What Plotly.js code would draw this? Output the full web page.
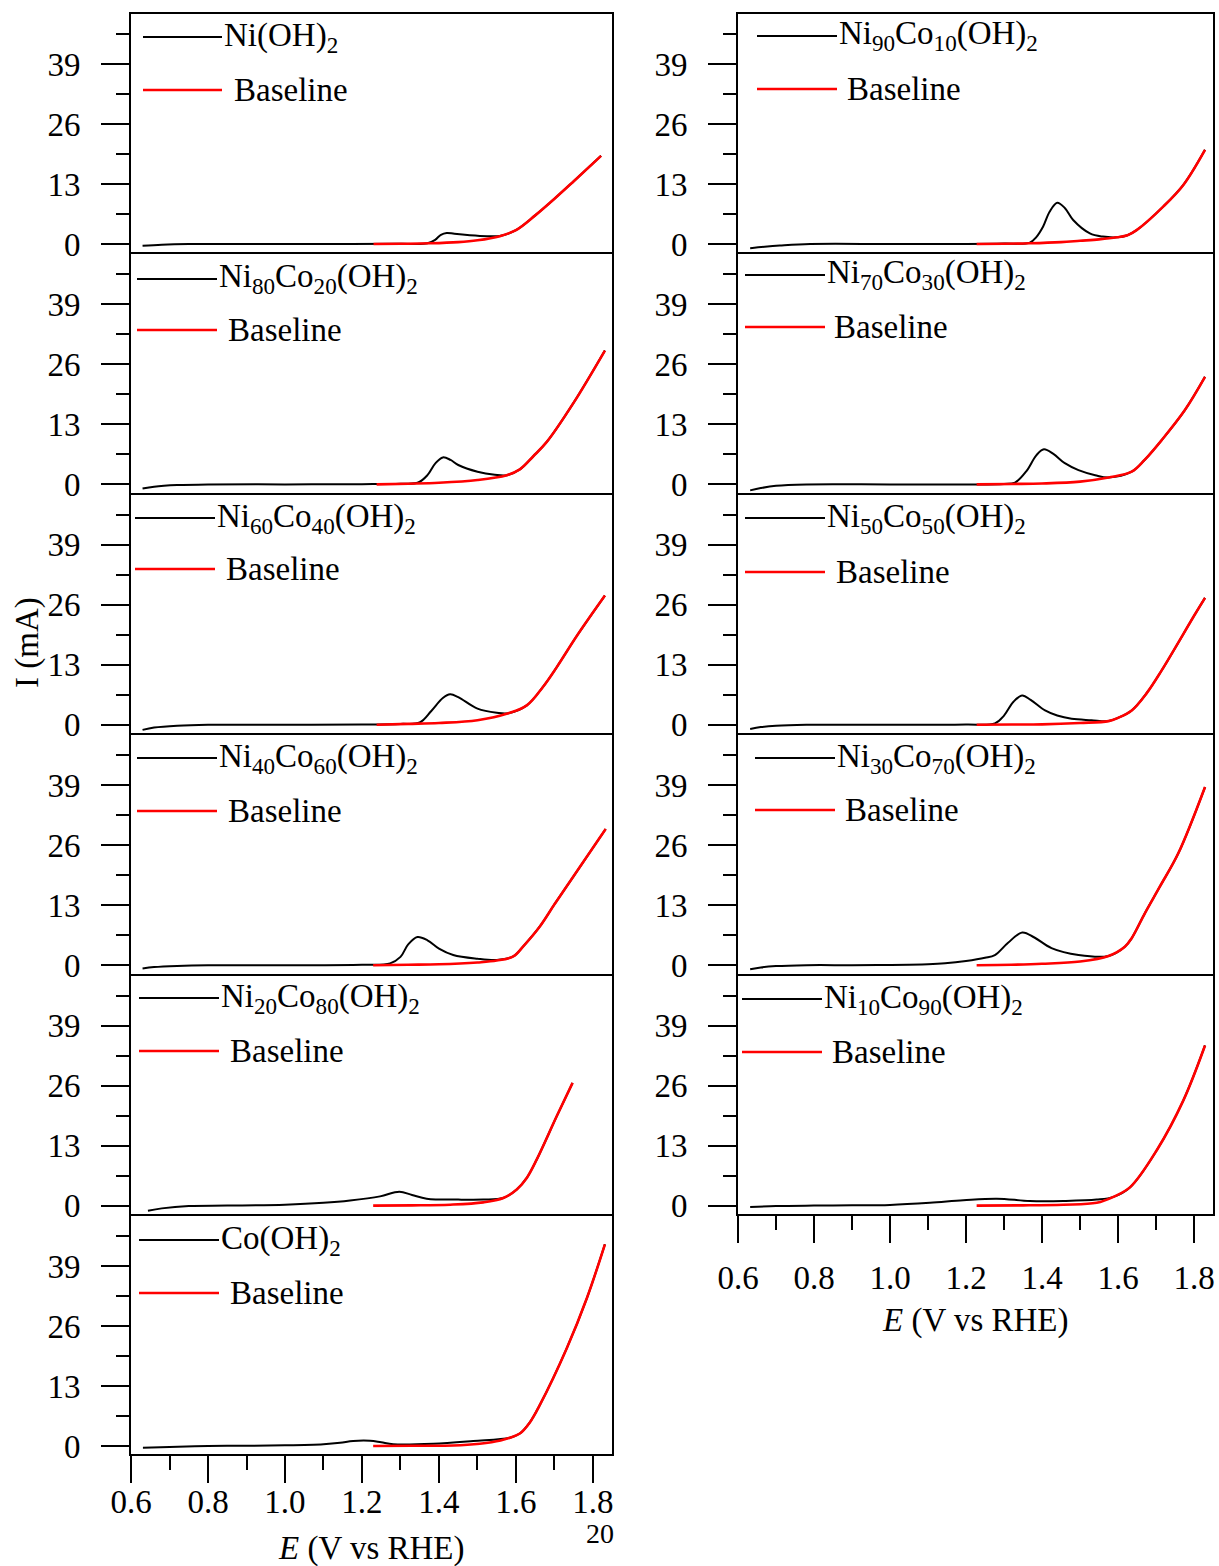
<!DOCTYPE html>
<html>
<head>
<meta charset="utf-8">
<script src="https://cdn.plot.ly/plotly-3.0.1.min.js"></script>
<style>html,body{margin:0;padding:0;background:#fff;}#chart{width:1219px;height:1566px;}</style>
</head>
<body>
<div id="chart"></div>
<script>
// ---------------- DATA ----------------
const panelLabels = [
  'Ni(OH)<sub>2</sub>',
  'Ni<sub>80</sub>Co<sub>20</sub>(OH)<sub>2</sub>',
  'Ni<sub>60</sub>Co<sub>40</sub>(OH)<sub>2</sub>',
  'Ni<sub>40</sub>Co<sub>60</sub>(OH)<sub>2</sub>',
  'Ni<sub>20</sub>Co<sub>80</sub>(OH)<sub>2</sub>',
  'Co(OH)<sub>2</sub>',
  'Ni<sub>90</sub>Co<sub>10</sub>(OH)<sub>2</sub>',
  'Ni<sub>70</sub>Co<sub>30</sub>(OH)<sub>2</sub>',
  'Ni<sub>50</sub>Co<sub>50</sub>(OH)<sub>2</sub>',
  'Ni<sub>30</sub>Co<sub>70</sub>(OH)<sub>2</sub>',
  'Ni<sub>10</sub>Co<sub>90</sub>(OH)<sub>2</sub>'
];
const baselineLabel = 'Baseline';
const xTickVals = [0.6, 0.8, 1.0, 1.2, 1.4, 1.6, 1.8];
const xTickText = ['0.6', '0.8', '1.0', '1.2', '1.4', '1.6', '1.8'];
const yTickVals = [0, 13, 26, 39];
const yTickText = ['0', '13', '26', '39'];

// Ni(OH)2
const E_Ni100 = [0.63, 0.68, 0.75, 0.9, 1.1, 1.3, 1.37, 1.39, 1.405, 1.42, 1.44, 1.48, 1.525, 1.558, 1.6, 1.65, 1.7, 1.75, 1.821];
const I_Ni100 = [-0.4, -0.15, 0, 0, 0, 0.05, 0.15, 0.9, 2.0, 2.4, 2.2, 1.9, 1.7, 1.75, 3.0, 6.2, 9.8, 13.6, 19.1];
const E_Ni100_base = [1.23, 1.3, 1.377, 1.45, 1.5, 1.558, 1.6, 1.65, 1.7, 1.75, 1.821];
const I_Ni100_base = [0, 0.05, 0.15, 0.4, 0.8, 1.7, 3.0, 6.2, 9.8, 13.6, 19.1];

// Ni80Co20(OH)2
const E_Ni80 = [0.63, 0.66, 0.72, 0.8, 1.0, 1.2, 1.3, 1.346, 1.37, 1.39, 1.41, 1.43, 1.45, 1.5, 1.545, 1.576, 1.61, 1.645, 1.68, 1.749, 1.831];
const I_Ni80 = [-0.9, -0.5, -0.15, 0, 0, 0.05, 0.15, 0.4, 2.0, 4.5, 5.85, 5.3, 4.2, 2.75, 2.1, 2.0, 3.25, 6.1, 9.2, 17.6, 29.0];
const E_Ni80_base = [1.238, 1.32, 1.4, 1.5, 1.576, 1.61, 1.645, 1.68, 1.749, 1.831];
const I_Ni80_base = [0, 0.15, 0.35, 0.95, 2.0, 3.25, 6.1, 9.2, 17.6, 29.0];

// Ni60Co40(OH)2
const E_Ni60 = [0.63, 0.66, 0.72, 0.8, 1.0, 1.2, 1.3, 1.35, 1.38, 1.41, 1.429, 1.45, 1.5, 1.55, 1.58, 1.628, 1.67, 1.706, 1.76, 1.831];
const I_Ni60 = [-1.1, -0.6, -0.2, 0, 0, 0.05, 0.2, 0.5, 3.0, 5.8, 6.6, 6.0, 3.5, 2.6, 2.5, 4.2, 8.2, 12.5, 19.5, 28.0];
const E_Ni60_base = [1.238, 1.32, 1.4, 1.5, 1.58, 1.628, 1.67, 1.706, 1.76, 1.831];
const I_Ni60_base = [0, 0.2, 0.4, 1.0, 2.5, 4.2, 8.2, 12.5, 19.5, 28.0];

// Ni40Co60(OH)2
const E_Ni40 = [0.63, 0.66, 0.72, 0.8, 1.0, 1.2, 1.273, 1.3, 1.32, 1.344, 1.37, 1.4, 1.437, 1.5, 1.55, 1.593, 1.62, 1.662, 1.7, 1.749, 1.833];
const I_Ni40 = [-0.7, -0.4, -0.15, 0, 0, 0.1, 0.4, 1.8, 4.5, 6.1, 5.4, 3.6, 2.2, 1.4, 1.15, 1.9, 4.2, 8.4, 13.2, 19.2, 29.5];
const E_Ni40_base = [1.229, 1.32, 1.4, 1.5, 1.55, 1.593, 1.62, 1.662, 1.7, 1.749, 1.833];
const I_Ni40_base = [0, 0.1, 0.2, 0.6, 1.0, 1.9, 4.2, 8.4, 13.2, 19.2, 29.5];

// Ni20Co80(OH)2
const E_Ni20 = [0.644, 0.68, 0.75, 0.85, 1.0, 1.1, 1.169, 1.247, 1.297, 1.33, 1.368, 1.45, 1.515, 1.567, 1.602, 1.628, 1.654, 1.706, 1.747];
const I_Ni20 = [-1.1, -0.6, -0.1, 0, 0.2, 0.6, 1.1, 2.0, 3.0, 2.3, 1.5, 1.3, 1.3, 1.65, 3.5, 6.0, 10.0, 19.4, 26.6];
const E_Ni20_base = [1.229, 1.33, 1.429, 1.515, 1.567, 1.602, 1.628, 1.654, 1.706, 1.747];
const I_Ni20_base = [0, 0.05, 0.2, 0.7, 1.65, 3.5, 6.0, 10.0, 19.4, 26.6];

// Co(OH)2
const E_Ni0 = [0.631, 0.7, 0.8, 0.9, 1.0, 1.1, 1.143, 1.177, 1.221, 1.25, 1.281, 1.385, 1.489, 1.584, 1.61, 1.635, 1.662, 1.732, 1.784, 1.831];
const I_Ni0 = [-0.4, -0.2, 0, 0.05, 0.15, 0.4, 0.7, 1.1, 1.15, 0.8, 0.4, 0.5, 1.1, 1.8, 2.7, 5.0, 8.9, 21.2, 32.0, 43.7];
const E_Ni0_base = [1.229, 1.33, 1.437, 1.506, 1.56, 1.584, 1.61, 1.635, 1.662, 1.732, 1.784, 1.831];
const I_Ni0_base = [0, 0.05, 0.1, 0.5, 1.2, 1.8, 2.7, 5.0, 8.9, 21.2, 32.0, 43.7];

// Ni90Co10(OH)2
const E_Ni90 = [0.632, 0.67, 0.71, 0.79, 1.0, 1.2, 1.3, 1.368, 1.385, 1.403, 1.42, 1.44, 1.46, 1.482, 1.526, 1.56, 1.597, 1.625, 1.649, 1.719, 1.772, 1.829];
const I_Ni90 = [-0.9, -0.6, -0.35, 0, 0, 0, 0.1, 0.3, 1.5, 3.8, 7.0, 8.95, 7.8, 5.2, 2.3, 1.6, 1.45, 1.9, 3.0, 8.1, 12.8, 20.4];
const E_Ni90_base = [1.228, 1.3, 1.368, 1.45, 1.5, 1.55, 1.597, 1.625, 1.649, 1.719, 1.772, 1.829];
const I_Ni90_base = [0, 0.05, 0.15, 0.4, 0.7, 1.0, 1.45, 1.9, 3.0, 8.1, 12.8, 20.4];

// Ni70Co30(OH)2
const E_Ni70 = [0.632, 0.66, 0.7, 0.78, 1.0, 1.2, 1.3, 1.329, 1.36, 1.385, 1.405, 1.43, 1.46, 1.496, 1.54, 1.575, 1.636, 1.67, 1.715, 1.776, 1.829];
const I_Ni70 = [-1.3, -0.8, -0.3, 0, 0, 0, 0.1, 0.4, 3.0, 6.3, 7.6, 6.6, 4.6, 3.1, 2.0, 1.5, 2.75, 5.3, 9.6, 16.1, 23.3];
const E_Ni70_base = [1.228, 1.32, 1.4, 1.5, 1.575, 1.636, 1.67, 1.715, 1.776, 1.829];
const I_Ni70_base = [0, 0.1, 0.2, 0.6, 1.5, 2.75, 5.3, 9.6, 16.1, 23.3];

// Ni50Co50(OH)2
const E_Ni50 = [0.632, 0.66, 0.7, 0.78, 1.0, 1.2, 1.276, 1.3, 1.325, 1.348, 1.37, 1.408, 1.44, 1.478, 1.53, 1.575, 1.6, 1.636, 1.675, 1.715, 1.803, 1.829];
const I_Ni50 = [-0.9, -0.5, -0.2, 0, 0, 0.05, 0.3, 2.0, 5.0, 6.35, 5.4, 3.1, 2.0, 1.3, 1.0, 0.8, 1.5, 3.1, 6.8, 11.8, 24.0, 27.5];
const E_Ni50_base = [1.228, 1.32, 1.4, 1.5, 1.575, 1.6, 1.636, 1.675, 1.715, 1.803, 1.829];
const I_Ni50_base = [0, 0.05, 0.1, 0.4, 0.8, 1.5, 3.1, 6.8, 11.8, 24.0, 27.5];

// Ni30Co70(OH)2
const E_Ni30 = [0.632, 0.66, 0.7, 0.78, 0.9, 1.0, 1.1, 1.145, 1.2, 1.25, 1.276, 1.31, 1.348, 1.38, 1.425, 1.496, 1.575, 1.618, 1.636, 1.671, 1.71, 1.759, 1.829];
const I_Ni30 = [-0.9, -0.5, -0.2, 0, 0, 0.05, 0.2, 0.4, 0.9, 1.6, 2.2, 4.8, 7.1, 6.0, 3.7, 2.2, 2.0, 4.0, 5.85, 11.3, 17.0, 24.3, 38.6];
const E_Ni30_base = [1.228, 1.32, 1.4, 1.5, 1.575, 1.618, 1.636, 1.671, 1.71, 1.759, 1.829];
const I_Ni30_base = [0, 0.1, 0.3, 0.8, 2.0, 4.0, 5.85, 11.3, 17.0, 24.3, 38.6];

// Ni10Co90(OH)2
const E_Ni10 = [0.632, 0.7, 0.8, 0.9, 1.0, 1.105, 1.193, 1.281, 1.368, 1.456, 1.544, 1.588, 1.632, 1.702, 1.772, 1.829];
const I_Ni10 = [-0.3, -0.1, 0, 0.05, 0.15, 0.6, 1.15, 1.5, 1.0, 1.0, 1.3, 1.9, 4.0, 12.0, 22.8, 34.7];
const E_Ni10_base = [1.228, 1.35, 1.456, 1.544, 1.588, 1.632, 1.702, 1.772, 1.829];
const I_Ni10_base = [0, 0.05, 0.2, 0.6, 1.9, 4.0, 12.0, 22.8, 34.7];

const seriesE = [E_Ni100, E_Ni80, E_Ni60, E_Ni40, E_Ni20, E_Ni0, E_Ni90, E_Ni70, E_Ni50, E_Ni30, E_Ni10];
const seriesI = [I_Ni100, I_Ni80, I_Ni60, I_Ni40, I_Ni20, I_Ni0, I_Ni90, I_Ni70, I_Ni50, I_Ni30, I_Ni10];
const baseE = [E_Ni100_base, E_Ni80_base, E_Ni60_base, E_Ni40_base, E_Ni20_base, E_Ni0_base, E_Ni90_base, E_Ni70_base, E_Ni50_base, E_Ni30_base, E_Ni10_base];
const baseI = [I_Ni100_base, I_Ni80_base, I_Ni60_base, I_Ni40_base, I_Ni20_base, I_Ni0_base, I_Ni90_base, I_Ni70_base, I_Ni50_base, I_Ni30_base, I_Ni10_base];

// ---------------- LAYOUT / STYLE ----------------
const W = 1219, H = 1566;
const FONT = 'Liberation Serif, Times New Roman, serif';
const px = x => x / W;
const py = y => 1 - y / H;

const panelH = 240.4;
const leftTops = [13, 253.4, 493.8, 734.2, 974.6, 1215];
const rightTops = [13, 253.4, 493.8, 734.2, 974.6];
const panels = [];
leftTops.forEach((t, i) => panels.push({col: 0, top: t, bottom: i === leftTops.length - 1}));
rightTops.forEach((t, i) => panels.push({col: 1, top: t, bottom: i === rightTops.length - 1}));
const colX = [[131, 612], [738, 1213]];
const colXRange = [[0.6, 1.8494], [0.6, 1.85]];
const yRange = [-1.82, 49.83];
const colLabelStandoff = [-10, 6];

// legend sample geometry per panel: [lineX0, lineX1, blackY, redY, baselineTextX]
const legendGeom = [
  [143, 222, 37, 90, 232],
  [137, 217, 279, 330, 226],
  [135, 215, 518, 569, 224],
  [137, 217, 758, 811, 226],
  [139, 219, 998, 1051, 228],
  [139, 219, 1240, 1293, 228],
  [757, 837, 36, 89, 845],
  [745, 825, 275, 327, 832],
  [745, 825, 518, 572, 834],
  [755, 835, 758, 810, 843],
  [742, 822, 999, 1052, 830]
];

const traces = [];
const layout = {
  width: W, height: H,
  margin: {l: 0, r: 0, t: 0, b: 0},
  paper_bgcolor: '#ffffff',
  plot_bgcolor: '#ffffff',
  showlegend: false,
  font: {family: FONT, color: '#000', size: 33},
  shapes: [],
  annotations: []
};

panels.forEach((p, i) => {
  const n = i + 1;
  const xa = 'x' + n, ya = 'y' + n;
  traces.push({
    x: seriesE[i], y: seriesI[i], xaxis: xa, yaxis: ya, type: 'scatter', mode: 'lines',
    line: {color: '#000000', width: 2, shape: 'spline', smoothing: 1.0}, hoverinfo: 'skip'
  });
  traces.push({
    x: baseE[i], y: baseI[i], xaxis: xa, yaxis: ya, type: 'scatter', mode: 'lines',
    line: {color: '#ff0000', width: 2.6, shape: 'spline', smoothing: 1.0}, hoverinfo: 'skip'
  });
  const xk = n === 1 ? 'xaxis' : 'xaxis' + n;
  const yk = n === 1 ? 'yaxis' : 'yaxis' + n;
  const cx = colX[p.col];
  layout[xk] = {
    domain: [px(cx[0]), px(cx[1])],
    anchor: ya,
    range: colXRange[p.col],
    showline: true, mirror: true, linecolor: '#000', linewidth: 2,
    showgrid: false, zeroline: false,
    ticks: p.bottom ? 'outside' : '',
    ticklen: 27, tickwidth: 2, tickcolor: '#000',
    tickmode: 'array', tickvals: xTickVals, ticktext: xTickText,
    showticklabels: p.bottom,
    ticklabelstandoff: colLabelStandoff[p.col],
    tickfont: {family: FONT, size: 33, color: '#000'},
    minor: p.bottom ? {ticks: 'outside', ticklen: 14, tickwidth: 2, tickcolor: '#000', dtick: 0.1, tick0: 0.6, showgrid: false} : {ticks: ''},
    fixedrange: true
  };
  layout[yk] = {
    domain: [py(p.top + panelH - 1), py(p.top + 1)],
    anchor: xa,
    range: yRange,
    showline: true, mirror: true, linecolor: '#000', linewidth: 2,
    showgrid: false, zeroline: false,
    ticks: 'outside', ticklen: 28, tickwidth: 2, tickcolor: '#000',
    tickmode: 'array', tickvals: yTickVals, ticktext: yTickText,
    tickfont: {family: FONT, size: 33, color: '#000'},
    ticklabelstandoff: 14,
    minor: {ticks: 'outside', ticklen: 13, tickwidth: 2, tickcolor: '#000', dtick: 6.5, tick0: 0, showgrid: false},
    fixedrange: true
  };
  const g = legendGeom[i];
  layout.shapes.push({type: 'line', xref: 'paper', yref: 'paper', x0: px(g[0]), x1: px(g[1]), y0: py(g[2]), y1: py(g[2]), line: {color: '#000', width: 2}});
  layout.shapes.push({type: 'line', xref: 'paper', yref: 'paper', x0: px(g[0]), x1: px(g[1]), y0: py(g[3]), y1: py(g[3]), line: {color: '#ff0000', width: 2.4}});
  layout.annotations.push({xref: 'paper', yref: 'paper', x: px(g[1]), y: py(g[2]), xanchor: 'left', yanchor: 'middle',
    text: panelLabels[i], showarrow: false, font: {family: FONT, size: 33, color: '#000'}});
  layout.annotations.push({xref: 'paper', yref: 'paper', x: px(g[4]), y: py(g[3]), xanchor: 'left', yanchor: 'middle',
    text: baselineLabel, showarrow: false, font: {family: FONT, size: 33, color: '#000'}});
});

layout.annotations.push({xref: 'paper', yref: 'paper', x: px(27), y: py(643), xanchor: 'center', yanchor: 'middle', textangle: -90,
  text: 'I (mA)', showarrow: false, font: {family: FONT, size: 33, color: '#000'}});
layout.annotations.push({xref: 'paper', yref: 'paper', x: px(371), y: py(1548), xanchor: 'center', yanchor: 'middle',
  text: '<i>E</i> (V vs RHE)', showarrow: false, font: {family: FONT, size: 33, color: '#000'}});
layout.annotations.push({xref: 'paper', yref: 'paper', x: px(975), y: py(1320), xanchor: 'center', yanchor: 'middle',
  text: '<i>E</i> (V vs RHE)', showarrow: false, font: {family: FONT, size: 33, color: '#000'}});
layout.annotations.push({xref: 'paper', yref: 'paper', x: px(600), y: py(1533), xanchor: 'center', yanchor: 'middle',
  text: '20', showarrow: false, font: {family: FONT, size: 28, color: '#000'}});

Plotly.newPlot('chart', traces, layout, {staticPlot: true, displayModeBar: false});
</script>
</body>
</html>
